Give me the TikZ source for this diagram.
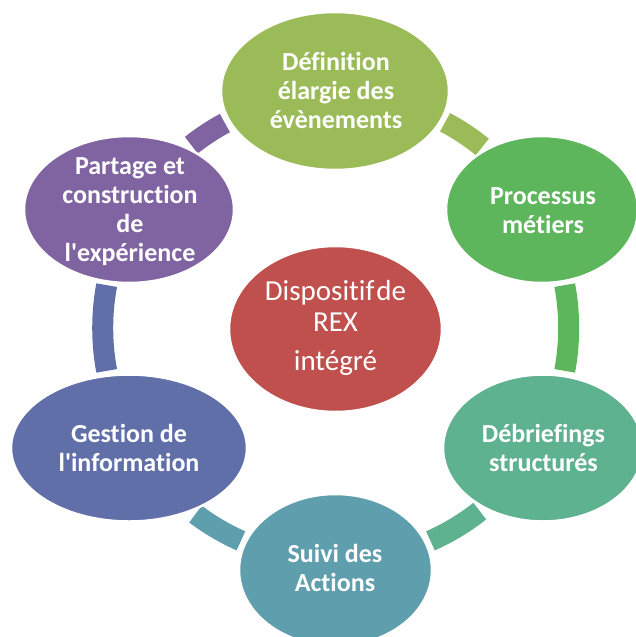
\documentclass[tikz,border=0pt]{standalone}
\usepackage{fontspec}
\setmainfont{Carlito}[Ligatures={NoCommon}]
\usetikzlibrary{shapes.geometric}
\definecolor{cDef}{HTML}{9BBB59}
\definecolor{cProc}{HTML}{5DB55C}
\definecolor{cDeb}{HTML}{5EB28F}
\definecolor{cSuivi}{HTML}{5F9EAD}
\definecolor{cGest}{HTML}{606FA8}
\definecolor{cPart}{HTML}{8064A2}
\definecolor{cRex}{HTML}{C0504D}
\newcommand{\topstrut}{\rule{0pt}{21pt}}
\newcommand{\topstrutc}{\rule{0pt}{23pt}}
\tikzset{
  blob/.style={ellipse, draw=white, line width=2.5pt, inner sep=0pt},
  lbl/.style={text=white, align=center, inner sep=0pt, anchor=north,
    font=\fontsize{26}{29}\selectfont\bfseries},
  lblc/.style={text=white, align=center, inner sep=0pt, anchor=north,
    font=\fontsize{29}{31.7}\selectfont},
  ring/.style={line width=21pt},
}
\begin{document}
\begin{tikzpicture}[x=1pt,y=1pt]
\useasboundingbox (0,0) rectangle (636,-637);
\coordinate (c) at (335.7,-328);
% connectors (arcs of the cycle)
\draw[ring, cDef]   (c) ++(62:233)   arc[start angle=62,    end angle=51,    radius=233];
\draw[ring, cProc]  (c) ++(10.6:233) arc[start angle=10.6,  end angle=-10.6, radius=233];
\draw[ring, cDeb]   (c) ++(-51.8:233) arc[start angle=-51.8, end angle=-66,  radius=233];
\draw[ring, cSuivi] (c) ++(-114:233) arc[start angle=-114,  end angle=-127,  radius=233];
\draw[ring, cGest]  (c) ++(190.6:233) arc[start angle=190.6, end angle=169.4, radius=233];
\draw[ring, cPart]  (c) ++(128.3:233) arc[start angle=128.3, end angle=118.4, radius=233];
% ellipses
\node[blob, fill=cDef,   minimum width=228pt, minimum height=158pt] (def)   at (335,-91) {};
\node[blob, fill=cProc,  minimum width=192pt, minimum height=147pt] (proc)  at (542,-209.5) {};
\node[blob, fill=cDeb,   minimum width=200pt, minimum height=147pt] (deb)   at (543,-448) {};
\node[blob, fill=cSuivi, minimum width=193pt, minimum height=152pt] (suivi) at (335.5,-570) {};
\node[blob, fill=cGest,  minimum width=236pt, minimum height=147pt] (gest)  at (129,-448) {};
\node[blob, fill=cPart,  minimum width=210pt, minimum height=147pt] (part)  at (129,-209.5) {};
\node[blob, fill=cRex,   minimum width=213pt, minimum height=166pt] (rex)   at (335.5,-329) {};
% labels
\node[lbl] (defT)   at (336,-49)  {\topstrut Définition\\élargie des\\évènements};
\node[lbl] (procT)  at (543,-183) {\topstrut Processus\\métiers};
\node[lbl] (debT)   at (543.5,-421) {\topstrut Débriefings\\structurés};
\node[lbl] (suiviT) at (335,-541) {\topstrut Suivi des\\Actions};
\node[lbl] (gestT)  at (129,-421) {\topstrut Gestion de\\l\textquotesingle information};
\node[lbl] (partT)  at (130,-153) {\topstrut Partage et\\construction\\de\\l\textquotesingle expérience};
\node[lblc] (rexT)  at (335.5,-277) {\topstrutc Dispositif\hspace{2pt}de\\REX\\[7pt]intégré};
\end{tikzpicture}
\end{document}
